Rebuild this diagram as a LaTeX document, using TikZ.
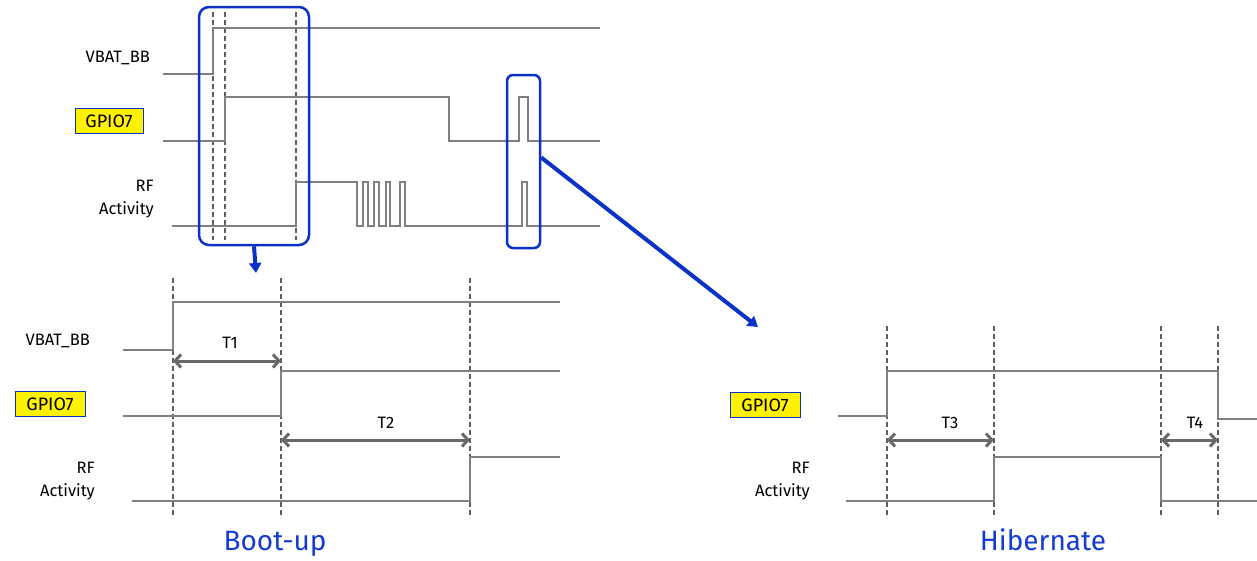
\documentclass[tikz,border=0pt]{standalone}
\usepackage{fontspec}
\setmainfont{Fira Sans}
\usetikzlibrary{arrows.meta}
\definecolor{sig}{RGB}{128,128,128}
\definecolor{dsh}{RGB}{95,95,95}
\definecolor{arr}{RGB}{105,105,105}
\definecolor{zblue}{RGB}{10,50,200}
\definecolor{lblblue}{RGB}{20,60,210}
\begin{document}
\begin{tikzpicture}[x=1pt,y=-1pt,
  wave/.style={draw=sig,line width=1.4pt},
  guide/.style={draw=dsh,line width=2.4pt,dash pattern=on 5pt off 3pt},
  meas/.style={draw=arr,line width=3pt,{Straight Barb[length=6pt,width=13pt]}-{Straight Barb[length=6pt,width=13pt]}},
  zoombox/.style={draw=zblue,line width=2.5pt,rounded corners=10pt,inner sep=0pt},
  zoomarrow/.style={draw=zblue,line width=4pt,-{Triangle[length=10pt,width=12pt]}},
  sigl/.style={font=\fontsize{16.5}{23}\selectfont,align=right,inner sep=0pt},
  gpio/.style={draw=zblue,fill=yellow,line width=1pt,font=\fontsize{18}{20}\selectfont,inner sep=0pt,minimum height=25pt},
  tl/.style={font=\fontsize{16.5}{20}\selectfont,inner sep=0pt},
  title/.style={font=\fontsize{28}{32}\selectfont,text=lblblue,inner sep=0pt,anchor=base}]
\useasboundingbox (0,0) rectangle (1257,560);

% ---------- top overview ----------
\node[sigl,anchor=east] (vbat0) at (150,58) {VBAT\_BB};
\node[gpio,minimum width=68pt] (gpio0) at (109,121) {GPIO7};
\node[sigl,anchor=east] (rf0) at (154,199) {RF\\Activity};

\foreach \x in {213,225,296} \draw[guide] (\x,12) -- (\x,240);
\draw[wave] (163,74) -- (213,74) -- (213,28) -- (600,28);
\draw[wave] (163,141) -- (225,141) -- (225,97) -- (449,97) -- (449,141) -- (519,141)
  -- (519,97) -- (528,97) -- (528,141) -- (600,141);
\draw[wave] (172,226) -- (296,226) -- (296,182) -- (357,182) -- (357,226) -- (363,226)
  -- (363,182) -- (368,182) -- (368,226) -- (374,226)
  -- (374,182) -- (379,182) -- (379,226) -- (386,226)
  -- (386,182) -- (390,182) -- (390,226) -- (400,226)
  -- (400,182) -- (405,182) -- (405,226) -- (522,226)
  -- (522,182) -- (527,182) -- (527,226) -- (600,226);

\node[zoombox,minimum width=110pt,minimum height=238pt] (box1) at (254,126) {};
\node[zoombox,minimum width=33pt,minimum height=173pt,rounded corners=6pt] (box2) at (523.5,161.5) {};

\coordinate (boottarget) at (256,273);
\coordinate (hibtarget) at (758,327);
\draw[zoomarrow] (box1.south) -- (boottarget);
\draw[zoomarrow] ([yshift=4pt]box2.east) -- (hibtarget);

% ---------- boot-up ----------
\node[sigl,anchor=east] (vbat1) at (90,341) {VBAT\_BB};
\node[gpio,minimum width=70pt] (gpio1) at (50,404) {GPIO7};
\node[sigl,anchor=east] (rf1) at (95,481) {RF\\Activity};

\foreach \x in {173,281,470} \draw[guide] (\x,278) -- (\x,518);
\draw[wave] (123,350) -- (173,350) -- (173,302) -- (560,302);
\draw[wave] (123,416) -- (281,416) -- (281,371) -- (560,371);
\draw[wave] (132,501) -- (470,501) -- (470,457) -- (560,457);

\coordinate (t1a) at (173,361);
\coordinate (t1b) at (281,361);
\coordinate (t2a) at (281,440);
\coordinate (t2b) at (470,440);
\draw[meas] (t1a) -- (t1b);
\draw[meas] (t2a) -- (t2b);
\node[tl] (T1) at (230,343) {T1};
\node[tl] (T2) at (386,423) {T2};
\node[title] (boot) at (275,550) {Boot-up};

% ---------- hibernate ----------
\node[gpio,minimum width=70pt] (gpio2) at (765,405) {GPIO7};
\node[sigl,anchor=east] (rf2) at (810,481) {RF\\Activity};

\foreach \x in {887,994,1161,1218} \draw[guide] (\x,326) -- (\x,518);
\draw[wave] (838,416) -- (887,416) -- (887,371) -- (1218,371) -- (1218,419) -- (1257,419);
\draw[wave] (846,501) -- (994,501) -- (994,457) -- (1161,457) -- (1161,501) -- (1257,501);

\coordinate (t3a) at (887,440);
\coordinate (t3b) at (994,440);
\coordinate (t4a) at (1161,440);
\coordinate (t4b) at (1218,440);
\draw[meas] (t3a) -- (t3b);
\draw[meas] (t4a) -- (t4b);
\node[tl] (T3) at (950,423) {T3};
\node[tl] (T4) at (1195,423) {T4};
\node[title] (hib) at (1043,550) {Hibernate};
\end{tikzpicture}
\end{document}
